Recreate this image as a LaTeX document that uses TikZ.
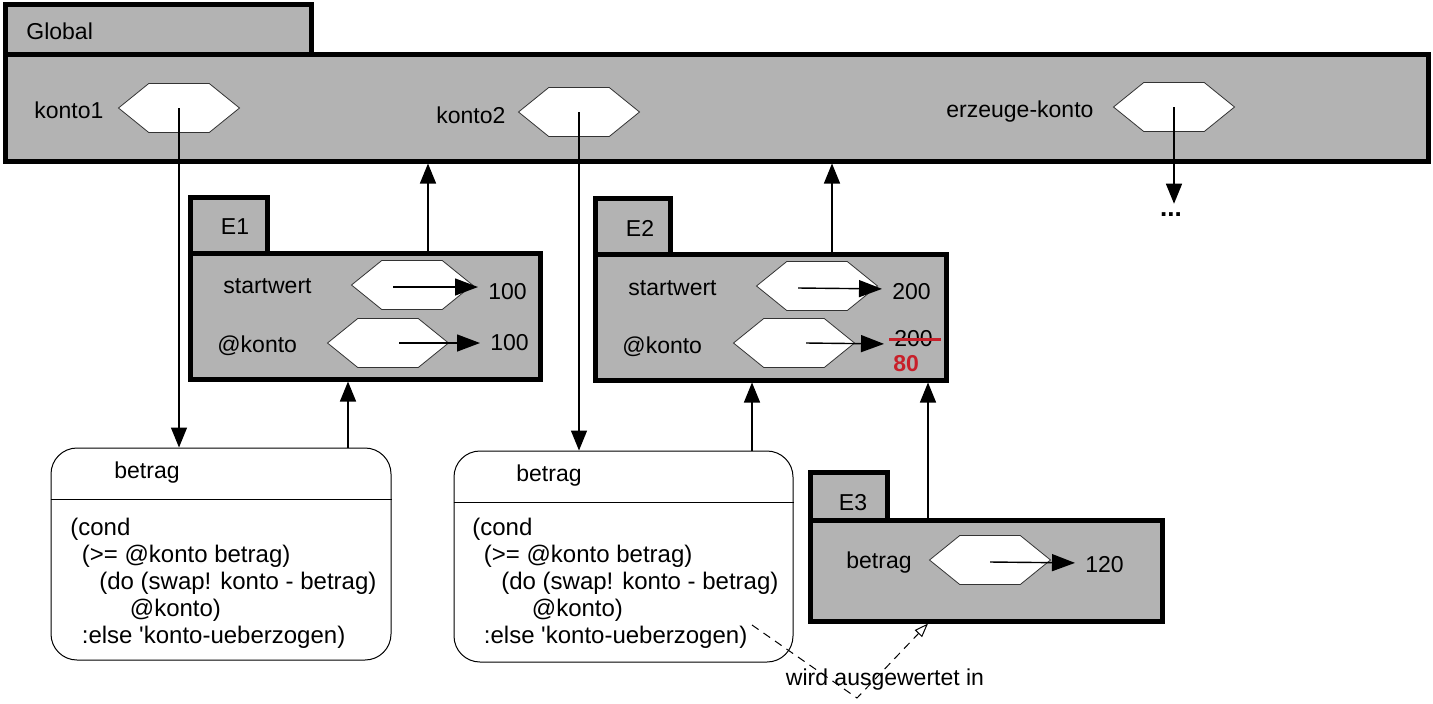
\documentclass[tikz,border=0pt]{standalone}
\usepackage{fontspec}
\setmainfont{Liberation Sans}[Ligatures=TeXOff]
\usetikzlibrary{arrows.meta, positioning, fit, shapes.symbols}
\definecolor{envgray}{RGB}{179,179,179}
\definecolor{strikered}{RGB}{200,32,42}
\tikzset{
	every node/.style={font=\fontsize{11.5}{13.5}\selectfont}, % Helvetica-like text everywhere
	envbox/.style={draw, line width=2.5pt, fill=envgray, inner sep=0pt}, % frame of an environment
	slot/.style={shape=signal, signal to=east and west, signal pointer angle=78,
		draw=black!80, line width=0.4pt, fill=white,
		minimum width=60.5pt, minimum height=24.5pt, inner sep=0pt}, % the hexagon of a binding
	lbl/.style={anchor=west, inner sep=0pt}, % names and values
	ptr/.style={-{Triangle[length=10pt,width=8pt]}, line width=0.7pt}, % pointer to an environment
	valptr/.style={-{Triangle[length=11.5pt,width=8.5pt]}, line width=0.7pt, shorten >=5pt}, % pointer to a value
	codebox/.style={draw, line width=0.5pt, rounded corners=13pt, inner sep=0pt}, % procedure object
	code/.style={anchor=north west, align=left, inner sep=0pt,
		font=\fontsize{12}{13.5}\selectfont}, % procedure body
}
\begin{document}
\begin{tikzpicture}[x=0.5pt, y=-0.5pt]
	\useasboundingbox (0,0) rectangle (1433,703);

	% Global
	\node[envbox, fit={(5,4) (311,54)}] (globaltab) {};
	\node[envbox, fit={(5,54) (1428,161)}] (global) {};
	\node[lbl] at (26,31) {Global};
	\node[lbl] at (34,110) {konto1};
	\node[slot] (h1) at (179,108) {};
	\node[lbl] at (436,115) {konto2};
	\node[slot] (h2) at (579,112) {};
	\node[lbl] at (946,112) {erzeuge-konto};
	\node[slot] (h3) at (1174,107) {};
	\node[anchor=base, inner sep=0pt, font=\fontsize{13}{15}\selectfont\bfseries] (dots) at (1171,216) {...};

	% E1
	\node[envbox, fit={(190,197) (267,253)}] (e1tab) {};
	\node[envbox, fit={(190,253) (540,379)}] (e1) {};
	\node at (235,227) {E1};
	\node[lbl] at (223,286) {startwert};
	\node[slot] (s1) at (412,285) {};
	\node[lbl] (v1) at (488,292) {100};
	\node[lbl] at (217,346) {@konto};
	\node[slot] (k1) at (388,343) {};
	\node[lbl] (w1) at (490,343) {100};

	% E2
	\node[envbox, fit={(595,198) (670,254)}] (e2tab) {};
	\node[envbox, fit={(595,254) (946,380)}] (e2) {};
	\node at (640,228) {E2};
	\node[lbl] at (628,288) {startwert};
	\node[slot] (s2) at (817,286) {};
	\node[lbl] (v2) at (892,292) {200};
	\node[lbl] at (622,347) {@konto};
	\node[slot] (k2) at (794,343) {};
	\node[lbl] (w2) at (894,339) {200};
	\node[lbl, text=strikered] (w2new) at (893,364) {\bfseries 80};
	\draw[strikered, line width=1.5pt] ([xshift=-2.5pt]w2.west) -- ([xshift=4pt]w2.east);

	% E3
	\node[envbox, fit={(810,472) (887,520)}] (e3tab) {};
	\node[envbox, fit={(810,520) (1162,621)}] (e3) {};
	\node at (853,503) {E3};
	\node[lbl] at (846,563) {betrag};
	\node[slot] (b3) at (990,560) {};
	\node[lbl] (v3) at (1085,565) {120};

	% procedure objects
	\node[codebox, fit={(51,448) (391,660)}] (code1) {};
	\coordinate (cut1) at (0,499);
	\draw[line width=0.5pt] (code1.west |- cut1) -- (code1.east |- cut1);
	\node[lbl] at (114,473) {betrag};
	\node[code] at (70,518) {(cond\\
		\hspace*{5.75pt}(>= @konto betrag)\\
		\hspace*{14.5pt}(do (swap! konto - betrag)\\
		\hspace*{29.75pt}@konto)\\
		\hspace*{5.75pt}:else 'konto-ueberzogen)};

	\node[codebox, fit={(454,451) (793,662)}] (code2) {};
	\coordinate (cut2) at (0,502);
	\draw[line width=0.5pt] (code2.west |- cut2) -- (code2.east |- cut2);
	\node[lbl] at (516,476) {betrag};
	\node[code] at (472,518) {(cond\\
		\hspace*{5.75pt}(>= @konto betrag)\\
		\hspace*{14.5pt}(do (swap! konto - betrag)\\
		\hspace*{29.75pt}@konto)\\
		\hspace*{5.75pt}:else 'konto-ueberzogen)};

	% pointers
	\coordinate (up1) at (348,0);
	\coordinate (up2) at (428,0);
	\coordinate (up3) at (752,0);
	\coordinate (up4) at (832,0);
	\coordinate (up5) at (928,0);
	\draw[ptr] (h1.center) -- (h1.center |- code1.north);
	\draw[ptr] (h2.center) -- (h2.center |- code2.north);
	\draw[ptr, shorten >=4pt] (h3.center) -- (h3.center |- dots.north);
	\draw[ptr] (up1 |- code1.north) -- (up1 |- e1.south);
	\draw[ptr] (up2 |- e1.north) -- (up2 |- global.south);
	\draw[ptr] (up3 |- code2.north) -- (up3 |- e2.south);
	\draw[ptr] (up4 |- e2.north) -- (up4 |- global.south);
	\draw[ptr] (up5 |- e3.north) -- (up5 |- e2.south);

	\draw[valptr] ([xshift=-9.5pt,yshift=-1pt]s1.center) -- ([yshift=-1pt]s1.center -| v1.west);
	\draw[valptr] ([xshift=5.5pt]k1.center) -- (k1.center -| w1.west);
	\draw[valptr] ([xshift=-9.5pt,yshift=-1pt]s2.center) -- ([yshift=-1.5pt]s2.center -| v2.west);
	\draw[valptr] ([xshift=6pt]k2.center) -- ([yshift=-0.5pt]k2.center -| w2.west);
	\draw[valptr] ([yshift=-1pt]b3.center) -- ([yshift=-1.5pt]b3.center -| v3.west);

	% evaluation
	\coordinate (evalfrom) at (752,625);
	\coordinate (evalbend) at (857,698);
	\draw[dashed, line width=0.5pt, dash pattern=on 4pt off 3pt, -{Triangle[open,length=7pt,width=5pt]}]
		(evalfrom) -- (evalbend) -- (up5 |- e3.south);
	\node at (885,680) {wird ausgewertet in};
\end{tikzpicture}
\end{document}
